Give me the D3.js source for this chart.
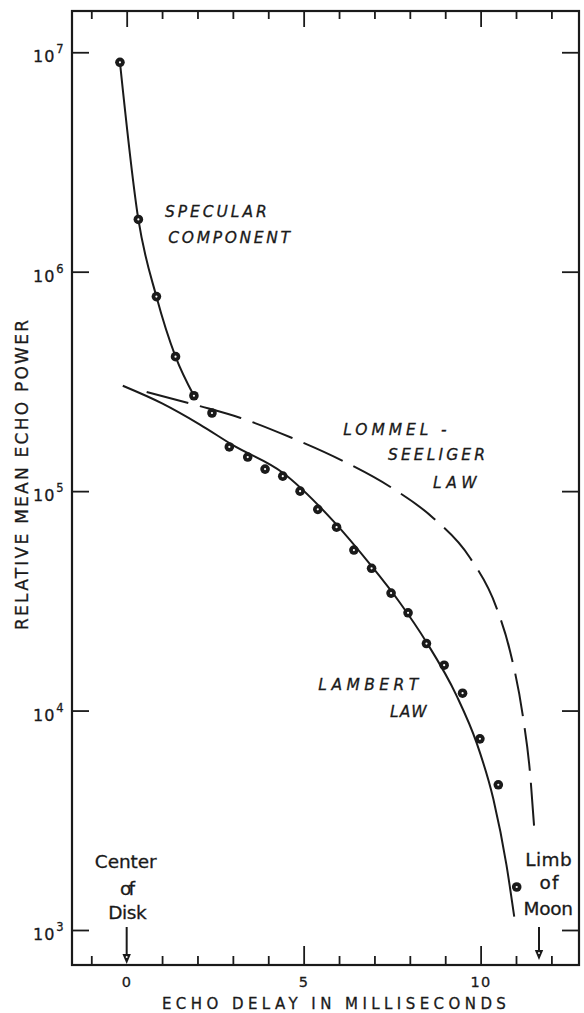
<!DOCTYPE html>
<html><head><meta charset="utf-8">
<script src="https://cdn.jsdelivr.net/npm/d3@7"></script>
<style>
body{margin:0;background:#fff}
svg{display:block}
text{font-family:"DejaVu Sans",sans-serif;fill:#1a1a1a;stroke:#1a1a1a;stroke-width:0.3px}
</style>
</head><body>
<svg id="c" width="584" height="1013"></svg>
<script>
// ---- data ----
const pointDelay = [-0.19, 0.33, 0.84, 1.38, 1.90, 2.41, 2.90, 3.42, 3.91, 4.41, 4.90, 5.40, 5.93, 6.42, 6.92, 7.47, 7.95, 8.47, 8.97, 9.49, 9.98, 10.50, 11.02];
const pointPower = [9.0e6, 1.73e6, 7.7e5, 4.1e5, 2.72e5, 2.27e5, 1.59e5, 1.43e5, 1.26e5, 1.17e5, 1.0e5, 8.26e4, 6.85e4, 5.39e4, 4.45e4, 3.43e4, 2.79e4, 2.02e4, 1.61e4, 1.20e4, 7.43e3, 4.59e3, 1.57e3];

const specularDelay = [-0.19, 0.33, 0.84, 1.38, 1.90];
const specularPower = [9.0e6, 1.73e6, 7.7e5, 4.1e5, 2.72e5];

const lambertDelay = [-0.11, 1.0, 2.07, 3.0, 4.42, 5.84, 6.92, 7.72, 8.47, 9.32, 9.89, 10.36, 10.73, 10.95];
const lambertPower = [3.02e5, 2.51e5, 2.01e5, 1.62e5, 1.21e5, 7.3e4, 4.55e4, 3.1e4, 2.05e4, 1.17e4, 7.1e3, 3.95e3, 1.98e3, 1.15e3];

const lommelDelay = [0.565, 2.07, 3.20, 4.66, 6.12, 7.49, 8.66, 9.70, 10.45, 10.83, 11.2, 11.39, 11.51];
const lommelPower = [2.83e5, 2.44e5, 2.16e5, 1.75e5, 1.37e5, 1.035e5, 7.55e4, 4.97e4, 2.94e4, 1.87e4, 9.3e3, 5.33e3, 2.99e3];

const xTickLabels = [0, 5, 10];
const xTickValues = d3.range(-1, 13);
const yTickExponents = [3, 4, 5, 6, 7];
const centerDelay = 0;
const limbDelay = 11.65;

// ---- layout ----
const ink = "#1a1a1a";
const m = {left: 72, right: 579, top: 11, bottom: 965};
const x = d3.scaleLinear().domain([-1.545, 12.78]).range([m.left, m.right]);
const y = d3.scaleLog().domain([Math.pow(10, 2.8405), Math.pow(10, 7.188)]).range([m.bottom, m.top]);

const svg = d3.select("#c");

function styleAxis(g) {
  g.select(".domain").remove();
  g.selectAll(".tick line").attr("stroke", ink).attr("stroke-width", 1.8);
}

// bottom ticks
svg.append("g").attr("transform", `translate(0,${m.bottom})`)
  .call(d3.axisBottom(x).tickValues(xTickValues.filter(v => v !== 0 && v % 5 !== 0)).tickSize(-9).tickFormat(""))
  .call(styleAxis);
svg.append("g").attr("transform", `translate(0,${m.bottom})`)
  .call(d3.axisBottom(x).tickValues([5, 10]).tickSize(-19).tickFormat(""))
  .call(styleAxis);
const xl = svg.append("g").attr("transform", `translate(0,${m.bottom})`)
  .call(d3.axisBottom(x).tickValues(xTickLabels).tickSize(0).tickPadding(12).tickFormat(d3.format("d")));
xl.select(".domain").remove();
xl.selectAll("text").attr("font-size", 14.5).attr("font-family", "DejaVu Sans").attr("fill", ink).attr("letter-spacing", 1.5);

// top ticks
svg.append("g").attr("transform", `translate(0,${m.top})`)
  .call(d3.axisTop(x).tickValues(xTickValues.filter(v => v % 5 !== 0)).tickSize(-8).tickFormat(""))
  .call(styleAxis);
svg.append("g").attr("transform", `translate(0,${m.top})`)
  .call(d3.axisTop(x).tickValues([0, 5, 10]).tickSize(-16).tickFormat(""))
  .call(styleAxis);

// left / right ticks
const yTicks = yTickExponents.map(e => Math.pow(10, e));
svg.append("g").attr("transform", `translate(${m.left},0)`)
  .call(d3.axisLeft(y).tickValues(yTicks).tickSize(-17).tickFormat(""))
  .call(styleAxis);
svg.append("g").attr("transform", `translate(${m.right},0)`)
  .call(d3.axisRight(y).tickValues(yTicks).tickSize(-17).tickFormat(""))
  .call(styleAxis);

// y tick labels 10^n
const yl = svg.append("g");
yTickExponents.forEach(e => {
  const t = yl.append("text").attr("x", 33).attr("y", y(Math.pow(10, e)) + 10)
    .attr("font-size", 16).attr("letter-spacing", 1);
  t.append("tspan").text("10");
  t.append("tspan").attr("dx", 1).attr("dy", -9).attr("font-size", 11.5).text(String(e));
});

// frame
svg.append("rect").attr("x", m.left).attr("y", m.top)
  .attr("width", m.right - m.left).attr("height", m.bottom - m.top)
  .attr("fill", "none").attr("stroke", ink).attr("stroke-width", 2.2);

// curves
const line = d3.line().x(d => x(d[0])).y(d => y(d[1])).curve(d3.curveMonotoneX);
const zip = (a, b) => a.map((v, i) => [v, b[i]]);

svg.append("path").datum(zip(specularDelay, specularPower)).attr("d", line)
  .attr("fill", "none").attr("stroke", ink).attr("stroke-width", 2);
svg.append("path").datum(zip(lambertDelay, lambertPower)).attr("d", line)
  .attr("fill", "none").attr("stroke", ink).attr("stroke-width", 2);
const ls = svg.append("path").datum(zip(lommelDelay, lommelPower)).attr("d", line)
  .attr("fill", "none").attr("stroke", ink).attr("stroke-width", 2);
// fit whole dashes (gap 12) so both ends finish with a full dash
const L = ls.node().getTotalLength();
const gap = 12;
const nDash = Math.round((L + gap) / 54);
const dash = (L + gap) / nDash - gap;
ls.attr("stroke-dasharray", `${dash} ${gap}`);

// data points
const pts = svg.append("g").selectAll("g").data(zip(pointDelay, pointPower)).join("g")
  .attr("transform", d => `translate(${x(d[0])},${y(d[1])})`);
pts.append("circle").attr("r", 4.8).attr("fill", ink);
pts.append("circle").attr("r", 1.1).attr("fill", "#fff");

// curve labels
const labels = [
  ["SPECULAR", 165, 216.7, 101.7],
  ["COMPONENT", 168.3, 242.5, 121.7],
  ["LOMMEL -", 343.3, 435, 103.4],
  ["SEELIGER", 388, 460, 97],
  ["LAW", 433, 488.3, 43.7],
  ["LAMBERT", 318.3, 690, 100],
  ["LAW", 390, 716.7, 36.7]
];
labels.forEach(([s, lx, ly, len]) => {
  svg.append("text").attr("x", lx).attr("y", ly).attr("font-size", 15.5)
    .attr("font-style", "oblique").attr("textLength", len).attr("lengthAdjust", "spacing").text(s);
});

// Center of Disk / Limb of Moon
const notes = [
  ["Center", x(centerDelay) - 1, 868.3, 61.7],
  ["of", x(centerDelay) + 0.8, 895, 15],
  ["Disk", x(centerDelay) + 0.8, 919, 38.4],
  ["Limb", x(limbDelay) + 9.5, 866, 46.7],
  ["of", x(limbDelay) + 10, 888.5, 19],
  ["Moon", x(limbDelay) + 9.2, 915, 49.4]
];
notes.forEach(([s, lx, ly, len]) => {
  svg.append("text").attr("x", lx).attr("y", ly).attr("font-size", 18.5)
    .attr("text-anchor", "middle").attr("textLength", len).attr("lengthAdjust", "spacing").text(s);
});

[[centerDelay, 927, 964], [limbDelay, 927, 960]].forEach(([d, y0, y1]) => {
  const ax = x(d);
  svg.append("line").attr("x1", ax).attr("x2", ax).attr("y1", y0).attr("y2", y1 - 8)
    .attr("stroke", ink).attr("stroke-width", 2);
  svg.append("path").attr("d", `M${ax - 4.2},${y1 - 10}L${ax + 4.2},${y1 - 10}L${ax},${y1}Z`).attr("fill", ink);
  svg.append("circle").attr("cx", ax).attr("cy", y1 - 7).attr("r", 1).attr("fill", "#fff");
});

// axis titles
svg.append("text").attr("x", 333.9).attr("y", 1008.5).attr("font-size", 15)
  .attr("text-anchor", "middle").attr("textLength", 344).attr("lengthAdjust", "spacing")
  .text("ECHO DELAY IN MILLISECONDS");
svg.append("text").attr("transform", "translate(28.3,475) rotate(-90)").attr("font-size", 17)
  .attr("text-anchor", "middle").attr("textLength", 310).attr("lengthAdjust", "spacing")
  .text("RELATIVE MEAN ECHO POWER");
</script>
</body></html>
